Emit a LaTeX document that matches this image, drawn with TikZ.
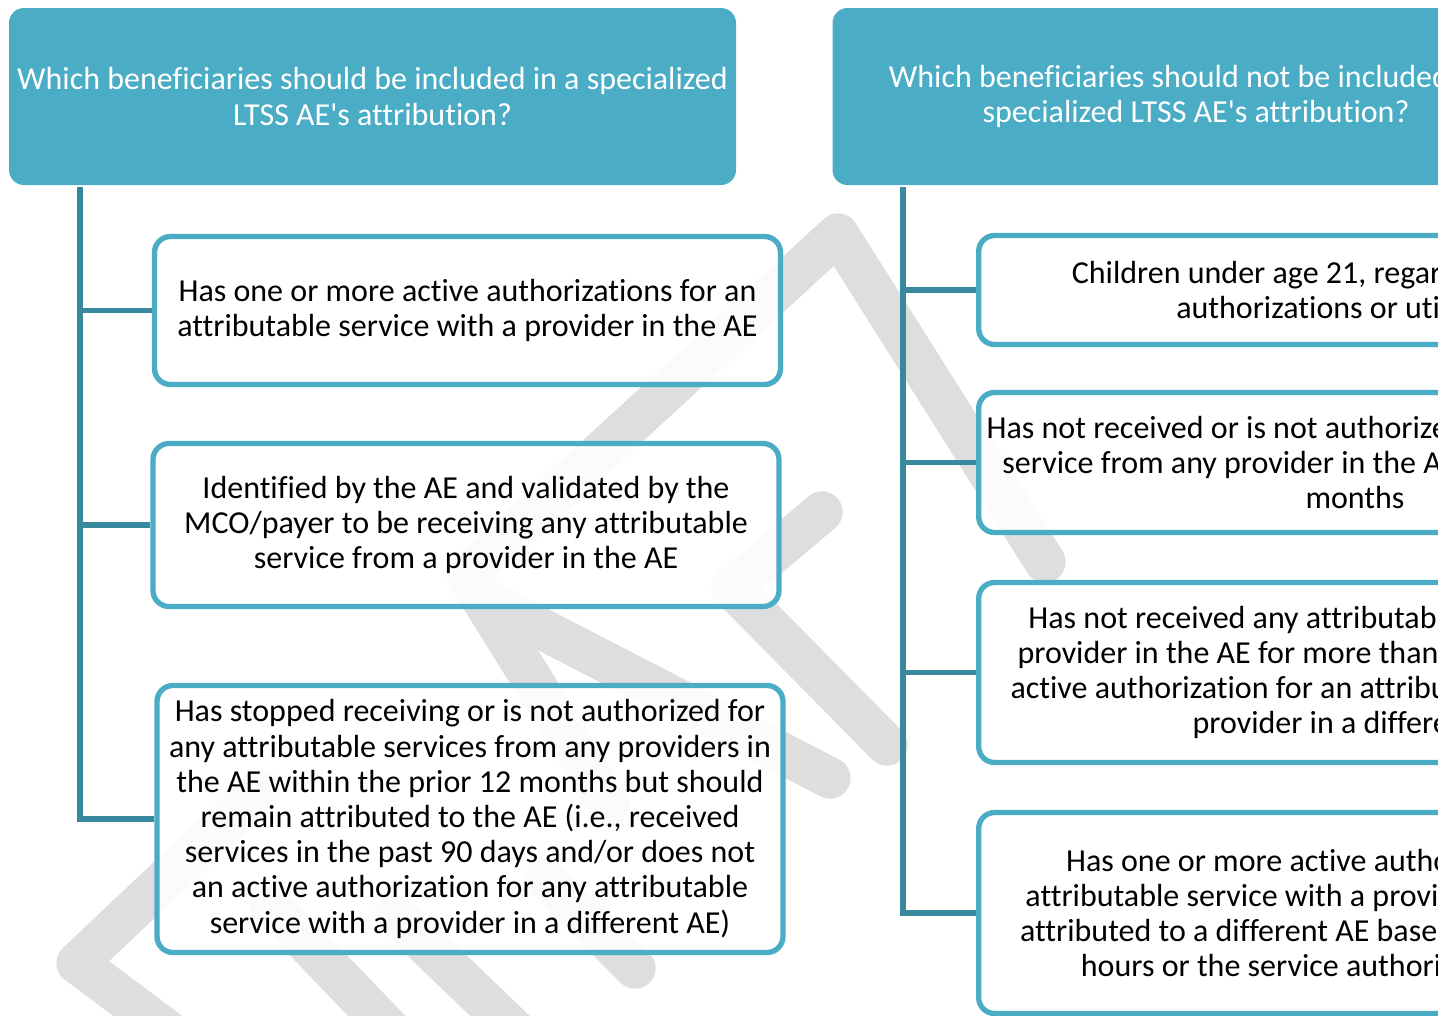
\documentclass[tikz,border=0pt]{standalone}
\usepackage{fontspec}
\setmainfont{Carlito}[Ligatures=TeX, RawFeature={-liga;-clig;-dlig;-calt}]
\definecolor{hdr}{RGB}{75,172,198}
\definecolor{conn}{RGB}{58,136,158}
\definecolor{wm}{RGB}{222,222,222}
\pgfdeclarelayer{back}
\pgfsetlayers{back,main}
\begin{document}
\begin{tikzpicture}[x=0.75pt,y=-0.75pt,
  txt/.style={align=center, font=\fontsize{24}{26.4}\selectfont, inner sep=0pt},
  header/.style={txt, fill=hdr, draw=none, rounded corners=11.25pt, text=white,
    minimum width=545.25pt, minimum height=132.75pt},
  box/.style={txt, draw=hdr, line width=4pt, fill=white, fill opacity=0.9,
    text opacity=1, text=black, rounded corners=12pt},
  lbox/.style={box, minimum width=469.5pt},
  rbox/.style={box, minimum width=564.5pt},
  link/.style={draw=conn, line width=4.2pt},
  wmark/.style={draw=wm, line width=31pt, line cap=round, line join=round}]
\useasboundingbox (0,0) rectangle (1438,1015);
\clip (0,0) rectangle (1438,1015);
% watermark
\begin{pgfonlayer}{back}
\draw[wmark] (1045,562) -- (838,234) -- (467,575) -- (610,805);
\draw[wmark] (482,598) -- (830,778);
\draw[wmark] (822,512) -- (732,588) -- (887,745);
\draw[wmark] (260,790) -- (77,963) -- (180,1040);
\draw[wmark] (270,905) -- (400,1040);
\draw[wmark] (395,915) -- (525,1040);
\draw[wmark] (545,878) -- (635,968);
\end{pgfonlayer}
% headers
\node[header] (hL) at (372.5,96.5) {Which beneficiaries should be included in a specialized\\LTSS AE\textquotesingle s attribution?};
\node[header] (hR) at (1196,96.5) {Which beneficiaries should not be included in a\\specialized LTSS AE\textquotesingle s attribution?};
% left boxes
\node[lbox, minimum height=111pt] (b1) at (467.5,310.5) {Has one or more active authorizations for an\\attributable service with a provider in the AE};
\node[lbox, minimum height=122.25pt] (b2) at (466,525) {Identified by the AE and validated by the\\MCO/payer to be receiving any attributable\\service from a provider in the AE};
\node[lbox, minimum height=200.25pt] (b3) at (470,819) {Has stopped receiving or is not authorized for\\any attributable services from any providers in\\the AE within the prior 12 months but should\\remain attributed to the AE (i.e., received\\services in the past 90 days and/or does not\\an active authorization for any attributable\\service with a provider in a different AE)};
% right boxes
\node[rbox, minimum height=81.75pt] (r1) at (1355,290) {Children under age 21, regardless of service\\authorizations or utilization};
\node[rbox, minimum height=105pt] (r2) at (1355,462.5) {Has not received or is not authorized for any attributable\\service from any provider in the AE within the prior 12\\months};
\node[rbox, minimum height=135pt] (r3) at (1355,672.5) {Has not received any attributable service from any\\provider in the AE for more than 12 months and has\\active authorization for an attributable service with a\\provider in a different AE};
\node[rbox, minimum height=150.75pt] (r4) at (1355,913) {Has one or more active authorizations for an\\attributable service with a provider in the AE but is\\attributed to a different AE based on the number of\\hours or the service authorization amount};
% connectors
\begin{pgfonlayer}{back}
\coordinate (tL) at (80,187);
\coordinate (tR) at (903,187);
\draw[link] (tL) |- (b3.west);
\draw[link] (tL |- b1.west) -- (b1.west);
\draw[link] (tL |- b2.west) -- (b2.west);
\draw[link] (tR) |- (r4.west);
\draw[link] (tR |- r1.west) -- (r1.west);
\draw[link] (tR |- r2.west) -- (r2.west);
\draw[link] (tR |- r3.west) -- (r3.west);
\end{pgfonlayer}
\end{tikzpicture}
\end{document}
